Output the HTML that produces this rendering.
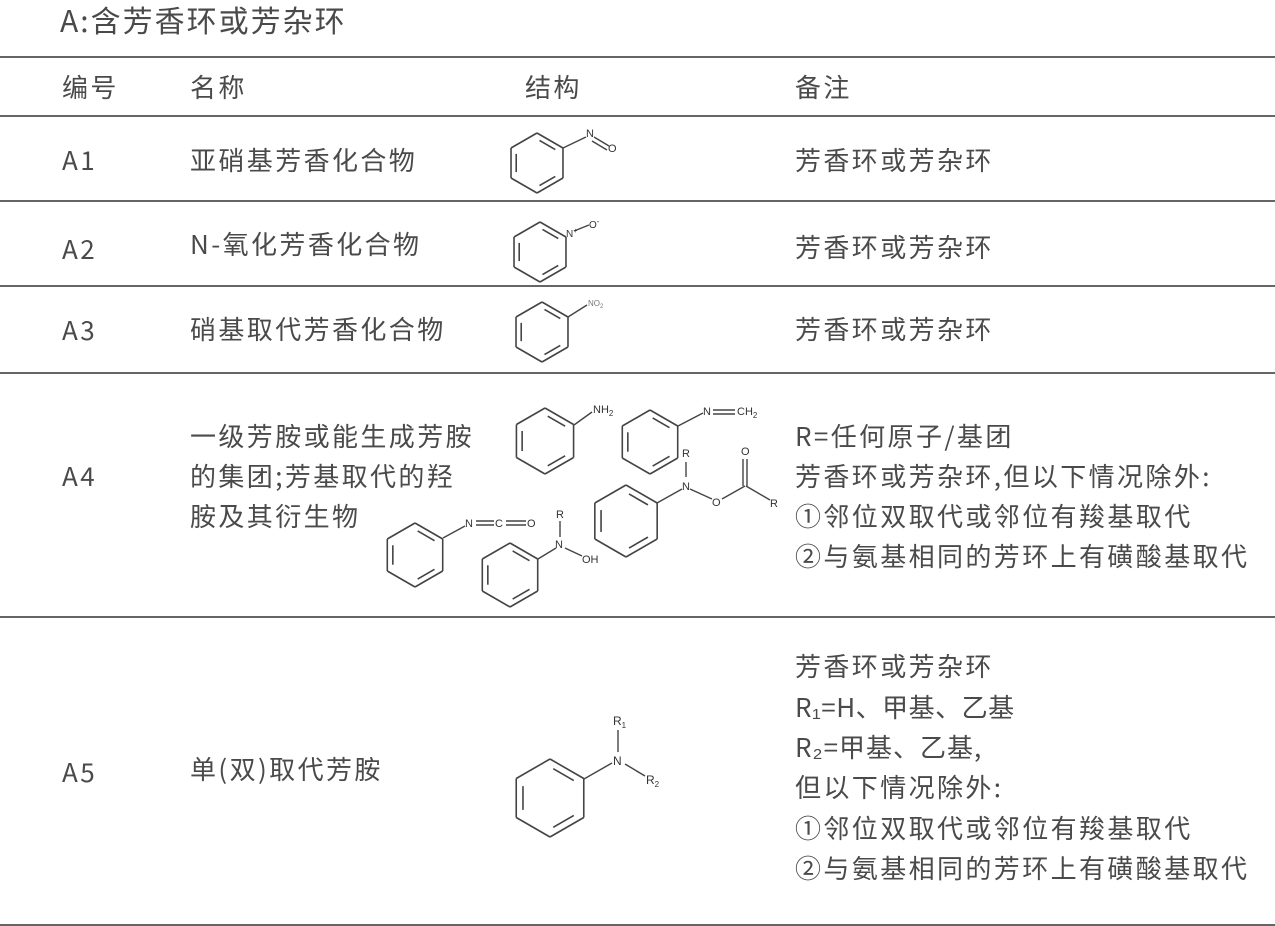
<!DOCTYPE html>
<html><head><meta charset="utf-8">
<style>
html,body{margin:0;padding:0;background:#fff;}
svg{display:block;}
.t{font-family:"Noto Sans CJK SC","Liberation Sans",sans-serif;font-size:26px;fill:#4a4a4a;letter-spacing:2.4px;}
.c{font-family:"Liberation Sans",sans-serif;fill:#333;}
</style></head><body>
<svg id="s" width="1275" height="926" viewBox="0 0 1275 926" xmlns="http://www.w3.org/2000/svg">
<g stroke="#333" stroke-width="1.5">
<line x1="0" y1="57" x2="1275" y2="57"/>
<line x1="0" y1="116" x2="1275" y2="116"/>
<line x1="0" y1="201" x2="1275" y2="201"/>
<line x1="0" y1="286" x2="1275" y2="286"/>
<line x1="0" y1="373" x2="1275" y2="373"/>
<line x1="0" y1="617" x2="1275" y2="617"/>
<line x1="0" y1="925" x2="1275" y2="925"/>
</g>
<text class="t" x="60" y="32" style="font-size:30px;letter-spacing:2px">A:含芳香环或芳杂环</text>
<text class="t" x="62" y="97">编号</text>
<text class="t" x="190" y="97">名称</text>
<text class="t" x="525" y="97">结构</text>
<text class="t" x="795" y="97">备注</text>

<text class="t" x="62" y="170">A1</text>
<text class="t" x="190" y="170">亚硝基芳香化合物</text>
<text class="t" x="795" y="170">芳香环或芳杂环</text>

<text class="t" x="62" y="259">A2</text>
<text class="t" x="190" y="254">N-氧化芳香化合物</text>
<text class="t" x="795" y="257">芳香环或芳杂环</text>

<text class="t" x="62" y="340">A3</text>
<text class="t" x="190" y="339">硝基取代芳香化合物</text>
<text class="t" x="795" y="339">芳香环或芳杂环</text>

<text class="t" x="62" y="486">A4</text>
<text class="t" x="190" y="446">一级芳胺或能生成芳胺</text>
<text class="t" x="190" y="486">的集团;芳基取代的羟</text>
<text class="t" x="190" y="526">胺及其衍生物</text>
<text class="t" x="795" y="446">R=任何原子/基团</text>
<text class="t" x="795" y="486">芳香环或芳杂环,但以下情况除外:</text>
<text class="t" x="795" y="526">①邻位双取代或邻位有羧基取代</text>
<text class="t" x="795" y="566">②与氨基相同的芳环上有磺酸基取代</text>

<text class="t" x="62" y="782">A5</text>
<text class="t" x="190" y="779">单(双)取代芳胺</text>
<text class="t" x="795" y="676">芳香环或芳杂环</text>
<text class="t" x="795" y="717" style="letter-spacing:0.5px">R₁=H、甲基、乙基</text>
<text class="t" x="795" y="757" style="letter-spacing:1px">R₂=甲基、乙基,</text>
<text class="t" x="795" y="797">但以下情况除外:</text>
<text class="t" x="795" y="838">①邻位双取代或邻位有羧基取代</text>
<text class="t" x="795" y="878">②与氨基相同的芳环上有磺酸基取代</text>

<g id="rings" stroke="#444" stroke-width="1.6" fill="none"></g>
<g stroke="#444" stroke-width="1.4" fill="none">
<line x1="563" y1="148" x2="586" y2="137"/>
<line x1="594" y1="137" x2="609" y2="146"/><line x1="592" y1="141" x2="607" y2="150"/>
<line x1="574" y1="231" x2="589" y2="225"/>
<line x1="568" y1="317" x2="587" y2="305"/>
<line x1="574" y1="425" x2="592" y2="412"/>
<line x1="678" y1="426" x2="703" y2="413"/>
<line x1="713" y1="410" x2="735" y2="410"/><line x1="713" y1="414" x2="735" y2="414"/>
<line x1="657" y1="503" x2="682" y2="489"/>
<line x1="686" y1="462" x2="686" y2="477"/>
<line x1="690" y1="489" x2="712" y2="499"/>
<line x1="722" y1="499" x2="745" y2="486"/>
<line x1="743" y1="486" x2="743" y2="459"/><line x1="747" y1="486" x2="747" y2="459"/>
<line x1="746" y1="486" x2="770" y2="500"/>
<line x1="443" y1="538" x2="465" y2="526"/>
<line x1="476" y1="521" x2="494" y2="521"/><line x1="476" y1="525" x2="494" y2="525"/>
<line x1="506" y1="521" x2="526" y2="521"/><line x1="506" y1="525" x2="526" y2="525"/>
<line x1="538" y1="559" x2="556" y2="548"/>
<line x1="560" y1="521" x2="560" y2="537"/>
<line x1="565" y1="548" x2="582" y2="556"/>
<line x1="584" y1="779" x2="612" y2="763"/>
<line x1="618" y1="730" x2="618" y2="752"/>
<line x1="625" y1="764" x2="645" y2="776"/>
</g>
<g class="c" font-size="11">
<text x="586" y="137">N</text><text x="608" y="152">O</text>
<text x="566" y="237" font-size="10">N<tspan dy="-4" font-size="7">+</tspan></text>
<text x="589" y="228" font-size="10">O<tspan dy="-4" font-size="8">-</tspan></text>
<text x="588" y="306" font-size="8" fill="#777">NO<tspan font-size="6" dy="2">2</tspan></text>
<text x="593" y="413">NH<tspan font-size="8" dy="3">2</tspan></text>
<text x="703" y="415">N</text><text x="737" y="415">CH<tspan font-size="8" dy="3">2</tspan></text>
<text x="682" y="457">R</text><text x="682" y="490">N</text>
<text x="712" y="506">O</text><text x="741" y="455">O</text><text x="770" y="507">R</text>
<text x="465" y="527">N</text><text x="495" y="527">C</text><text x="527" y="527">O</text>
<text x="556" y="518">R</text><text x="555" y="548">N</text><text x="582" y="563">OH</text>
<text x="613" y="725" font-size="12">R<tspan font-size="8" dy="3">1</tspan></text>
<text x="613" y="765" font-size="12">N</text>
<text x="646" y="784" font-size="12">R<tspan font-size="8" dy="3">2</tspan></text>
</g>
</svg>
<script>
(function(){
var g=document.getElementById('rings');var ns='http://www.w3.org/2000/svg';
function L(a,b,c,d){var l=document.createElementNS(ns,'line');l.setAttribute('x1',a);l.setAttribute('y1',b);l.setAttribute('x2',c);l.setAttribute('y2',d);g.appendChild(l);}
function ring(cx,cy,r){
 var p=[];for(var i=0;i<6;i++){var a=(-90+60*i)*Math.PI/180;p.push([cx+r*Math.cos(a),cy+r*Math.sin(a)]);}
 for(var i=0;i<6;i++){var A=p[i],B=p[(i+1)%6];L(A[0],A[1],B[0],B[1]);}
 [[0,1],[2,3],[4,5]].forEach(function(e){var A=p[e[0]],B=p[e[1]];var k=0.8;
  var a=[cx+(A[0]-cx)*k,cy+(A[1]-cy)*k],b=[cx+(B[0]-cx)*k,cy+(B[1]-cy)*k];
  var s=0.12;L(a[0]+(b[0]-a[0])*s,a[1]+(b[1]-a[1])*s,b[0]-(b[0]-a[0])*s,b[1]-(b[1]-a[1])*s);});
}
ring(537,163,30);ring(540,252,30);ring(542,332,30);
ring(545,441,33);ring(650,442,32);ring(626,521,36);ring(415,555,32);ring(510,575,32);
ring(550,798,39);
})();
</script>
</body></html>
